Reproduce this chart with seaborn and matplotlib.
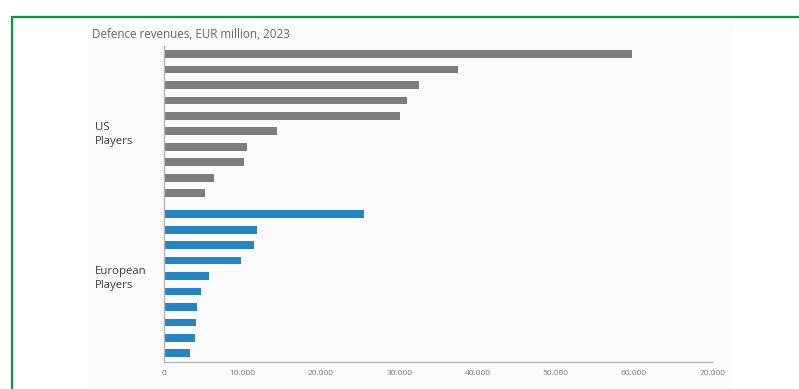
import numpy as np
import pandas as pd
import matplotlib
matplotlib.use("Agg")
import matplotlib.pyplot as plt
from matplotlib.patches import Rectangle
import seaborn as sns

# Defence revenues, EUR million, 2023 (companies ranked within each group)
us_revenues = [59800, 37500, 32500, 31000, 30100, 14400, 10500, 10200, 6300, 5200]
eu_revenues = [25500, 11900, 11500, 9800, 5700, 4700, 4200, 4000, 3950, 3300]
group_names = ["US\nPlayers", "European\nPlayers"]
x_ticks = [0, 10000, 20000, 30000, 40000, 50000, 60000, 70000]
x_tick_labels = ["0", "10.000", "20.000", "30.000", "40.000", "50.000", "60.000", "70.000"]
title = "Defence revenues, EUR million, 2023"

GRAY = "#7d7d7d"
BLUE = "#2385c3"
GREEN = "#0b9444"
AXIS = "#b4b4b4"

sns.set_theme(style="white")
plt.rcParams["font.family"] = ["Open Sans", "DejaVu Sans"]

# Row positions: one slot per company, with a wider gap between the two groups
group_gap = 0.36
us_pos = np.arange(len(us_revenues), dtype=float)
eu_pos = len(us_revenues) + group_gap + np.arange(len(eu_revenues), dtype=float)

df = pd.DataFrame({
    "revenue": us_revenues + eu_revenues,
    "row": np.concatenate([us_pos, eu_pos]),
    "group": ["US"] * len(us_revenues) + ["EU"] * len(eu_revenues),
})

fig = plt.figure(figsize=(7.99, 3.89), dpi=100)
W, H = 799, 389

# Green frame and light panel behind the chart
fig.patches.append(Rectangle((12 / W, -0.1), 1.2, (389 - 17) / H + 0.1,
                             transform=fig.transFigure, fill=False,
                             edgecolor=GREEN, linewidth=1.6, zorder=-2))
fig.patches.append(Rectangle((88 / W, -0.1), (733 - 88) / W, (389 - 24) / H + 0.1,
                             transform=fig.transFigure, facecolor="#fbfbfb",
                             edgecolor="none", zorder=-3))

ax = fig.add_axes([164.3 / W, (389 - 362) / H, (712.3 - 164.3) / W, (362 - 46) / H])
ax.set_facecolor("none")
ax.set_zorder(2)

sns.barplot(data=df, x="revenue", y="row", hue="group", orient="h",
            native_scale=True, palette={"US": GRAY, "EU": BLUE},
            width=0.5, dodge=False, legend=False, ax=ax, saturation=1,
            linewidth=0)

ax.set_xlim(0, 70000)
ax.set_ylim(eu_pos[-1] + 0.56, -0.52)
ax.set_xticks(x_ticks)
ax.set_xticklabels(x_tick_labels, fontsize=6, color="#777777")
ax.set_yticks([])
ax.set_xlabel("")
ax.set_ylabel("")
ax.tick_params(axis="x", direction="in", length=2, width=0.6, color=AXIS, pad=6)

for side in ["top", "right"]:
    ax.spines[side].set_visible(False)
for side in ["left", "bottom"]:
    ax.spines[side].set_color(AXIS)
    ax.spines[side].set_linewidth(1.0)

# Group labels to the left of the bars
label_x = (95 - 164.3) / (712.3 - 164.3)
ax.text(label_x, us_pos.mean() + 0.72, group_names[0], transform=ax.get_yaxis_transform(),
        ha="left", va="center", fontsize=8.2, color="#3a3a3a", linespacing=1.35)
ax.text(label_x, eu_pos.mean() - 0.33, group_names[1], transform=ax.get_yaxis_transform(),
        ha="left", va="center", fontsize=8.2, color="#3a3a3a", linespacing=1.35)

fig.text(92 / W, 1 - 34.5 / H, title, ha="left", va="center",
         fontsize=8.4, color="#666666")

fig.savefig("out.png", dpi=100)
